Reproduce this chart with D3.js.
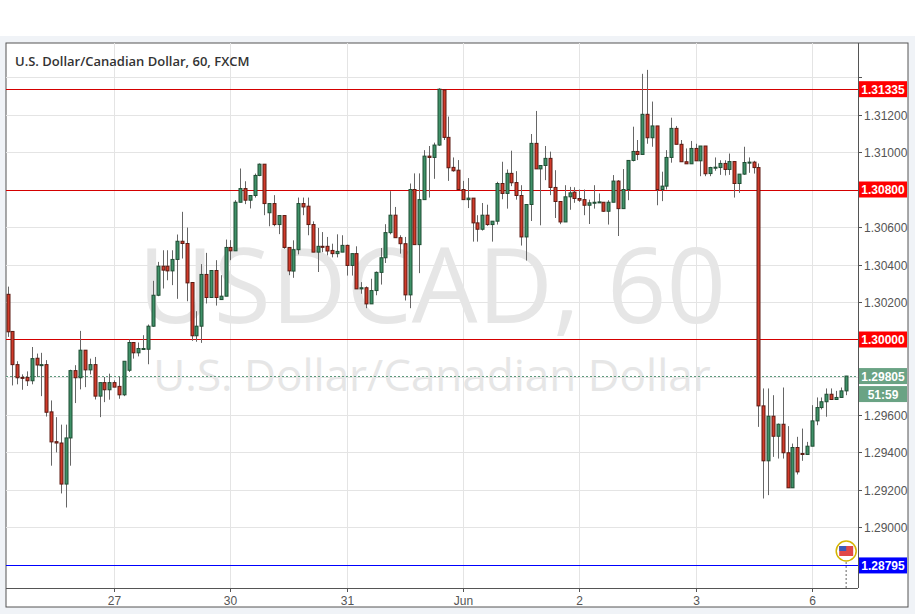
<!DOCTYPE html>
<html><head><meta charset="utf-8">
<script src="https://cdn.jsdelivr.net/npm/d3@7"></script>
<style>body{margin:0;background:#f0f3f7;}svg{display:block;}</style>
</head><body><svg id="c" width="915" height="614"></svg>
<script>
const title = "U.S. Dollar/Canadian Dollar, 60, FXCM";
const opens  = [1.30241,1.30043,1.29866,1.29798,1.29798,1.2978,1.299,1.29866,1.29866,1.29614,1.29455,1.29448,1.29229,1.29475,1.29834,1.29796,1.29943,1.29838,1.29866,1.29698,1.2977,1.29732,1.2977,1.2975,1.29705,1.29836,1.29984,1.29929,1.29952,1.29948,
1.30071,1.30236,1.30391,1.30391,1.30366,1.30427,1.30524,1.30512,1.30304,1.3002,1.30071,1.30347,1.30224,1.30368,1.30213,1.30231,1.30491,1.30473,1.30732,1.30805,1.30743,1.30768,1.30875,1.30935,1.30676,1.30725,1.30613,1.30661,1.30491,
1.30365,1.30479,1.30725,1.30711,1.30613,1.30466,1.30497,1.30497,1.30475,1.30458,1.30466,1.30502,1.30395,1.30458,1.3027,1.30276,1.3019,1.30261,1.30358,1.30436,1.3057,1.30663,1.30543,1.30511,1.30238,1.308,1.30506,1.30746,1.30978,
1.30971,1.31037,1.31331,1.31078,1.30918,1.30903,1.308,1.30746,1.30754,1.30622,1.30588,1.30663,1.30613,1.30631,1.30832,1.30779,1.30886,1.30837,1.30768,1.30547,1.3072,1.31046,1.3091,1.30928,1.30966,1.30811,1.30736,1.30627,1.30761,
1.30786,1.30752,1.30746,1.30716,1.30729,1.30732,1.30732,1.30684,1.30732,1.30845,1.30698,1.308,1.30955,1.31003,1.30987,1.31201,1.31076,1.31139,1.308,1.30818,1.30971,1.31126,1.31041,1.30948,1.30937,1.31019,1.30953,1.31032,
1.30885,1.30917,1.30917,1.30939,1.30907,1.30949,1.30832,1.30882,1.30944,1.30946,1.30917,1.29646,1.29353,1.29591,1.29484,1.29548,1.29396,1.29209,1.29424,1.29392,1.29387,1.29431,1.29566,1.29637,1.29668,1.29708,1.2968,1.29691,1.29726];
const highs  = [1.30282,1.30043,1.29884,1.29814,1.2983,1.2996,1.29925,1.29929,1.2989,1.29675,1.29586,1.29546,1.29546,1.29839,1.29863,1.30046,1.29943,1.29898,1.29907,1.2977,1.298,1.29818,1.29782,1.298,1.29884,1.3,1.29984,1.29984,1.30023,1.3008,
1.30313,1.30414,1.30476,1.30476,1.30476,1.3056,1.30681,1.30597,1.30304,1.30151,1.30402,1.30462,1.30368,1.30423,1.30343,1.30533,1.3053,1.30743,1.30912,1.30844,1.30768,1.30885,1.30939,1.30935,1.30725,1.3077,1.30661,1.30661,1.30491,
1.30529,1.30757,1.30757,1.30757,1.3063,1.30595,1.30573,1.30547,1.30511,1.30561,1.30556,1.30506,1.30458,1.30497,1.30306,1.30283,1.30324,1.30363,1.30488,1.30615,1.30791,1.30707,1.30556,1.30547,1.30832,1.30886,1.30886,1.3101,1.31032,
1.3105,1.3134,1.31331,1.31189,1.30971,1.30957,1.30846,1.30861,1.30754,1.30663,1.30728,1.30719,1.30631,1.30841,1.30948,1.30907,1.31007,1.30898,1.30823,1.3072,1.31096,1.31219,1.30928,1.31032,1.31002,1.30903,1.30736,1.30823,1.30814,
1.30812,1.308,1.308,1.30746,1.30823,1.30779,1.30732,1.30743,1.30877,1.3085,1.30909,1.30955,1.31135,1.31064,1.31417,1.31438,1.31269,1.31139,1.30895,1.3101,1.31183,1.31139,1.31064,1.31019,1.31059,1.31044,1.31032,1.31032,
1.30921,1.30971,1.30956,1.30956,1.30992,1.30949,1.30882,1.31028,1.30971,1.30953,1.30939,1.29739,1.29739,1.29703,1.29552,1.29744,1.29538,1.29445,1.29481,1.29525,1.29454,1.2965,1.29691,1.29691,1.29739,1.29739,1.29726,1.29744,1.29806];
const lows   = [1.30014,1.29755,1.29761,1.29732,1.29752,1.29761,1.298,1.29698,1.29589,1.29327,1.29398,1.29179,1.29104,1.29327,1.29661,1.29734,1.29746,1.29814,1.2968,1.29586,1.29666,1.29679,1.29746,1.29684,1.29698,1.29827,1.29898,1.2991,1.29948,1.29868,
1.30068,1.30231,1.30272,1.30316,1.3029,1.30217,1.30432,1.30204,1.29993,1.29988,1.29982,1.30192,1.30224,1.30181,1.30213,1.30231,1.30423,1.30473,1.30732,1.30722,1.30699,1.30757,1.30871,1.30663,1.30604,1.30604,1.30562,1.30484,1.30343,
1.30329,1.30454,1.30663,1.30556,1.30466,1.3036,1.30466,1.30449,1.30438,1.30438,1.30466,1.30341,1.30341,1.3027,1.30244,1.30167,1.3019,1.30236,1.30293,1.30408,1.30561,1.30543,1.30458,1.30208,1.30167,1.30506,1.30354,1.30746,1.30757,
1.30857,1.31033,1.31064,1.30846,1.30895,1.308,1.30746,1.30701,1.30522,1.30522,1.30581,1.30606,1.30522,1.30613,1.30748,1.30698,1.30818,1.30746,1.30501,1.30421,1.30632,1.3091,1.30609,1.3085,1.3077,1.30648,1.30615,1.30627,1.30692,
1.30729,1.30734,1.30663,1.30616,1.30698,1.30729,1.30681,1.30613,1.30732,1.30552,1.30698,1.30743,1.3095,1.30957,1.30987,1.31044,1.31028,1.30716,1.30738,1.308,1.30943,1.31041,1.30948,1.30937,1.30937,1.30953,1.30871,1.30871,
1.30871,1.309,1.30878,1.30875,1.30878,1.30757,1.30782,1.30878,1.30889,1.30885,1.29534,1.29152,1.2917,1.29374,1.29365,1.29365,1.29209,1.29209,1.2928,1.29353,1.29387,1.29431,1.29543,1.29627,1.29588,1.2968,1.2968,1.29691,1.29703];
const closes = [1.30041,1.29866,1.29796,1.29796,1.2978,1.29898,1.29864,1.29866,1.29612,1.29454,1.29448,1.29229,1.29475,1.29834,1.29796,1.29943,1.29838,1.29866,1.29698,1.2977,1.29732,1.2977,1.29746,1.29705,1.29884,1.29984,1.29929,1.29952,1.29952,1.30071,
1.30236,1.30391,1.3037,1.30366,1.30427,1.30524,1.30512,1.30302,1.3002,1.30071,1.30347,1.30224,1.30368,1.30224,1.30231,1.30491,1.30473,1.30732,1.30805,1.30743,1.30768,1.30875,1.30935,1.30725,1.30725,1.30613,1.30661,1.30491,1.30366,
1.30479,1.30725,1.30707,1.30613,1.30466,1.30497,1.30493,1.30472,1.30458,1.3047,1.30502,1.30395,1.30458,1.3027,1.30276,1.3019,1.30261,1.30358,1.30436,1.3057,1.30663,1.30543,1.30511,1.30238,1.308,1.30506,1.30746,1.30978,1.30971,
1.31037,1.31335,1.31078,1.30916,1.309,1.308,1.30746,1.30754,1.30622,1.30588,1.30663,1.30613,1.30631,1.30832,1.30779,1.30886,1.30836,1.30768,1.30547,1.3072,1.31046,1.3091,1.30928,1.30966,1.30811,1.30736,1.30627,1.30761,1.30782,
1.30752,1.30743,1.30716,1.30729,1.30732,1.30734,1.30684,1.30732,1.30845,1.30698,1.308,1.30955,1.31003,1.30987,1.31201,1.31076,1.31139,1.308,1.30818,1.30971,1.31126,1.31041,1.30948,1.30937,1.31019,1.30953,1.31032,1.30884,
1.30917,1.30919,1.30939,1.30907,1.30949,1.30832,1.30882,1.30944,1.30946,1.30917,1.29646,1.29353,1.29591,1.29484,1.29548,1.29396,1.29209,1.29424,1.29294,1.29387,1.29431,1.29566,1.29637,1.29668,1.29708,1.2968,1.29691,1.29726,1.29805];
const dayLabels = ["27","30","31","Jun","2","3","6"];
const dayStarts = [22,46,70,94,118,142,166];
const yTicks = [1.290,1.292,1.294,1.296,1.298,1.300,1.302,1.304,1.306,1.308,1.310,1.312,1.314];
const redLevels = [1.31335,1.30800,1.30000];
const blueLevel = 1.28795;
const lastPrice = 1.29805;
const countdown = "51:59";

const svg = d3.select("#c");
const L=6, T=43, R=858, B=588, OR=908, OB=607;
svg.append("rect").attr("x",0).attr("y",0).attr("width",915).attr("height",36).attr("fill","#fff");
svg.append("rect").attr("x",L).attr("y",T).attr("width",OR-L).attr("height",OB-T).attr("fill","#fff").attr("stroke","#555").attr("stroke-width",1);
const x = d3.scaleLinear().domain([0,173]).range([7.5,845.7]);
const y = d3.scaleLinear().domain([1.314,1.290]).range([77,527]);
const g = svg.append("g");
g.selectAll(".hg").data(yTicks).join("line").attr("x1",L).attr("x2",R).attr("y1",d=>Math.round(y(d))+.5).attr("y2",d=>Math.round(y(d))+.5).attr("stroke","#e4e4e4");
g.selectAll(".vg").data(dayStarts).join("line").attr("y1",T).attr("y2",B).attr("x1",d=>Math.round(x(d))+.5).attr("x2",d=>Math.round(x(d))+.5).attr("stroke","#e4e4e4");
g.append("text").attr("x",432).attr("y",323).attr("text-anchor","middle").attr("font-family","Open Sans, Arial, sans-serif").attr("font-size",104).attr("fill","#e6e6e6").text("USDCAD, 60");
g.append("text").attr("x",432).attr("y",391).attr("text-anchor","middle").attr("font-family","Open Sans, Arial, sans-serif").attr("font-size",44).attr("fill","#e6e6e6").text("U.S. Dollar/Canadian Dollar");
svg.append("text").attr("x",15).attr("y",66).attr("font-family","Open Sans, sans-serif").attr("font-size",13).attr("font-weight",600).attr("fill","#333").text(title);
g.selectAll(".rl").data(redLevels).join("line").attr("x1",L).attr("x2",R).attr("y1",d=>Math.round(y(d))+.5).attr("y2",d=>Math.round(y(d))+.5).attr("stroke","#d40000");
g.append("line").attr("x1",L).attr("x2",R).attr("y1",Math.round(y(blueLevel))+.5).attr("y2",Math.round(y(blueLevel))+.5).attr("stroke","#0000ff");
g.append("line").attr("x1",L).attr("x2",R).attr("y1",Math.round(y(lastPrice))+.5).attr("y2",Math.round(y(lastPrice))+.5).attr("stroke","#5e9a7d").attr("stroke-dasharray","2,2");
const idx = d3.range(opens.length);
g.selectAll(".w").data(idx).join("line").attr("x1",i=>Math.round(x(i))+.5).attr("x2",i=>Math.round(x(i))+.5).attr("y1",i=>y(highs[i])).attr("y2",i=>y(lows[i])).attr("stroke","#666");
g.selectAll(".b").data(idx).join("rect")
 .attr("x",i=>Math.round(x(i))-1).attr("width",3)
 .attr("y",i=>y(Math.max(opens[i],closes[i])))
 .attr("height",i=>Math.max(1,Math.abs(y(opens[i])-y(closes[i]))))
 .attr("fill",i=>closes[i]>=opens[i]?"#3f9168":"#d13a2a")
 .attr("stroke",i=>closes[i]>=opens[i]?"#1f4d33":"#5c1a12").attr("stroke-width",1);
svg.append("line").attr("x1",R+.5).attr("x2",R+.5).attr("y1",T).attr("y2",B).attr("stroke","#555");
svg.append("line").attr("x1",L).attr("x2",R).attr("y1",B+.5).attr("y2",B+.5).attr("stroke","#555");
const ax = svg.append("g").attr("font-family","Arial, Liberation Sans, sans-serif").attr("font-size",12).attr("fill","#555");
const tagYs = redLevels.concat([blueLevel]).map(v=>y(v)).concat([y(lastPrice), y(lastPrice)+18]);
yTicks.forEach(d=>{
  const yy=Math.round(y(d))+.5;
  ax.append("line").attr("x1",R).attr("x2",R+4).attr("y1",yy).attr("y2",yy).attr("stroke","#555");
  if (tagYs.some(t=>Math.abs(t-yy)<15)) return;
  ax.append("text").attr("x",R+6).attr("y",yy+4).text(d.toFixed(5));
});
dayStarts.forEach((d,k)=>{
  const xx=Math.round(x(d))+.5;
  ax.append("line").attr("x1",xx).attr("x2",xx).attr("y1",B).attr("y2",B+4).attr("stroke","#555");
  ax.append("text").attr("x",xx).attr("y",B+17).attr("text-anchor","middle").text(dayLabels[k]);
});
function tag(v,txt,fill,dy){
  const yy=y(v)+(dy||0);
  svg.append("rect").attr("x",R+1).attr("y",yy-8).attr("width",48).attr("height",16).attr("fill",fill);
  svg.append("text").attr("x",R+25).attr("y",yy+4.5).attr("text-anchor","middle").attr("font-family","Arial, Liberation Sans, sans-serif").attr("font-size",12).attr("font-weight","bold").attr("fill","#fff").text(txt);
}
redLevels.forEach(v=>tag(v,v.toFixed(5),"#ff0000"));
tag(blueLevel,blueLevel.toFixed(5),"#0000ff");
tag(lastPrice,lastPrice.toFixed(5),"#6aa384");
tag(lastPrice,countdown,"#6aa384",18);
const fx=x(173)+0.5, fy=551;
svg.append("line").attr("x1",fx).attr("x2",fx).attr("y1",fy+11).attr("y2",B).attr("stroke","#999").attr("stroke-width",1.5).attr("stroke-dasharray","2,2");
svg.append("circle").attr("cx",fx).attr("cy",fy).attr("r",10).attr("fill","#fff").attr("stroke","#d4b400").attr("stroke-width",1.5);
svg.append("rect").attr("x",fx-7).attr("y",fy-5).attr("width",14).attr("height",10).attr("fill","#e04848");
svg.append("rect").attr("x",fx-7).attr("y",fy-5).attr("width",7).attr("height",5).attr("fill","#3b5ab8");
</script></body></html>
